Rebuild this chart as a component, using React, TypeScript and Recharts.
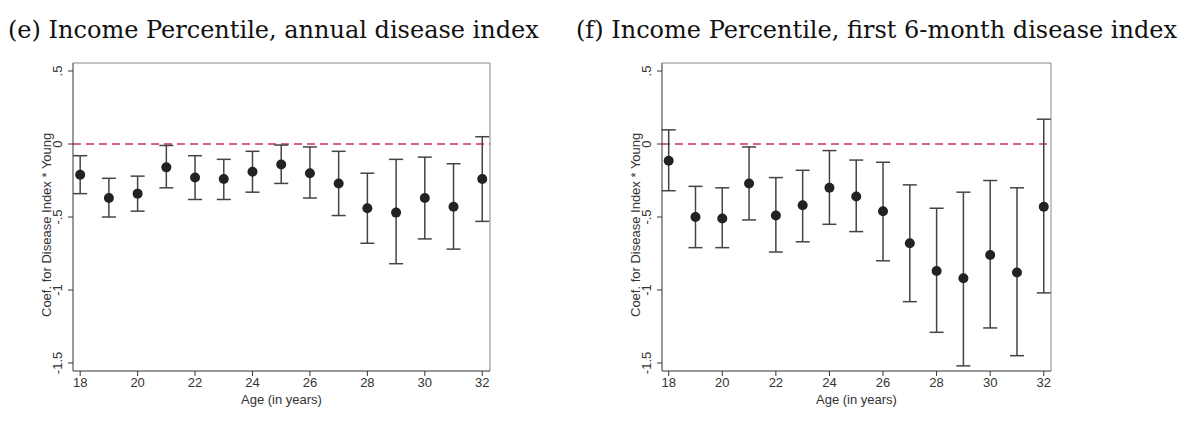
import { ScatterChart, Scatter, XAxis, YAxis, ErrorBar, ReferenceLine } from "recharts";

const ages = [18, 19, 20, 21, 22, 23, 24, 25, 26, 27, 28, 29, 30, 31, 32];

const annualCoef = [-0.21, -0.37, -0.34, -0.16, -0.23, -0.24, -0.19, -0.14, -0.2, -0.27, -0.44, -0.47, -0.37, -0.43, -0.24];
const annualLow = [-0.34, -0.5, -0.46, -0.3, -0.38, -0.38, -0.33, -0.27, -0.37, -0.49, -0.68, -0.82, -0.65, -0.72, -0.53];
const annualHigh = [-0.08, -0.235, -0.22, -0.01, -0.08, -0.105, -0.05, -0.007, -0.02, -0.05, -0.2, -0.105, -0.09, -0.135, 0.05];

const halfCoef = [-0.115, -0.5, -0.51, -0.27, -0.49, -0.42, -0.3, -0.36, -0.46, -0.68, -0.87, -0.92, -0.76, -0.88, -0.43];
const halfLow = [-0.32, -0.71, -0.71, -0.52, -0.74, -0.67, -0.55, -0.6, -0.8, -1.08, -1.29, -1.52, -1.26, -1.45, -1.02];
const halfHigh = [0.097, -0.29, -0.3, -0.02, -0.23, -0.18, -0.045, -0.11, -0.125, -0.28, -0.44, -0.33, -0.25, -0.3, 0.17];

const xTicks = [18, 20, 22, 24, 26, 28, 30, 32];
const yTicks = [0.5, 0, -0.5, -1, -1.5];
const yLabels = [".5", "0", "-.5", "-1", "-1.5"];

const FONT = "'Liberation Sans', Arial, sans-serif";

function build(coef: number[], low: number[], high: number[]) {
  return ages.map((a, i) => ({ age: a, coef: coef[i], err: [coef[i] - low[i], high[i] - coef[i]] }));
}

function YTick(props: any) {
  const { x, y, payload } = props;
  const label = yLabels[yTicks.indexOf(payload.value)];
  return (
    <text x={x - 4} y={y} transform={`rotate(-90 ${x - 4} ${y})`} textAnchor="middle" fontSize={13} fill="#333" fontFamily={FONT}>
      {label}
    </text>
  );
}

function Panel({ data, width, left, right }: { data: any[]; width: number; left: number; right: number }) {
  return (
    <ScatterChart width={width} height={379} margin={{ top: 13, right, bottom: 28, left }}>
      <XAxis
        type="number"
        dataKey="age"
        domain={[17.75, 32.27]}
        ticks={xTicks}
        tickSize={5}
        stroke="#333"
        tick={{ fontSize: 13, fill: "#333", fontFamily: FONT }}
        height={30}
        label={{ value: "Age (in years)", position: "insideBottom", offset: -3, fontSize: 13, fill: "#333", fontFamily: FONT }}
      />
      <YAxis
        type="number"
        dataKey="coef"
        domain={[-1.555, 0.555]}
        ticks={yTicks}
        tickSize={5}
        stroke="#333"
        width={30}
        tick={<YTick />}
        label={{ value: "Coef. for Disease Index * Young", angle: -90, position: "insideLeft", offset: 3, dy: 100, fontSize: 13, fill: "#333", fontFamily: FONT }}
      />
      <ReferenceLine y={0.555} stroke="#888" />
      <ReferenceLine x={32.27} stroke="#888" />
      <ReferenceLine y={0} stroke="#c8344f" strokeDasharray="8 5" strokeWidth={1.5} />
      <Scatter data={data} fill="#222" shape={(p: any) => <circle cx={p.cx} cy={p.cy} r={5} fill="#222" />} isAnimationActive={false}>
        <ErrorBar dataKey="err" direction="y" width={7} stroke="#444" strokeWidth={1.5} />
      </Scatter>
    </ScatterChart>
  );
}

export default function App() {
  const titleStyle: React.CSSProperties = {
    position: "absolute",
    top: 16,
    fontFamily: "'DejaVu Serif', serif",
    fontSize: 24,
    color: "#111",
    whiteSpace: "nowrap",
  };
  return (
    <div style={{ position: "absolute", left: 0, top: 0, width: 1200, height: 429, background: "#fff" }}>
      <div style={{ ...titleStyle, left: 8 }}>(e) Income Percentile, annual disease index</div>
      <div style={{ ...titleStyle, left: 576 }}>(f) Income Percentile, first 6-month disease index</div>
      <div style={{ position: "absolute", left: 0, top: 50 }}>
        <Panel data={build(annualCoef, annualLow, annualHigh)} width={560} left={43} right={70} />
      </div>
      <div style={{ position: "absolute", left: 600, top: 50 }}>
        <Panel data={build(halfCoef, halfLow, halfHigh)} width={600} left={32} right={149} />
      </div>
    </div>
  );
}
